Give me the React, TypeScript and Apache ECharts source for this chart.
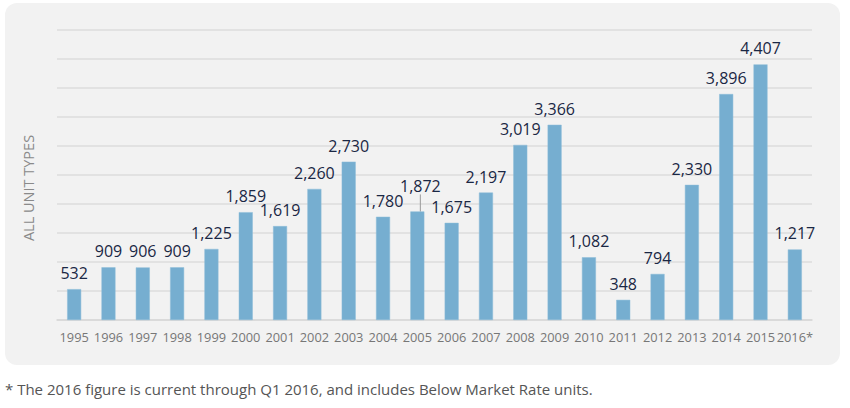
import React, { useEffect, useRef } from "react";
import * as echarts from "echarts";

const categories = ["1995","1996","1997","1998","1999","2000","2001","2002","2003","2004","2005","2006","2007","2008","2009","2010","2011","2012","2013","2014","2015","2016*"];
const units = [532,909,906,909,1225,1859,1619,2260,2730,1780,1872,1675,2197,3019,3366,1082,348,794,2330,3896,4407,1217];
const yMax = 5000;
const yInterval = 500;
const axisTitle = "ALL UNIT TYPES";
const footnote = "* The 2016 figure is current through Q1 2016, and includes Below Market Rate units.";
const shiftedLabelIndex = 10;

export default function App() {
  const ref = useRef<HTMLDivElement>(null);
  useEffect(() => {
    if (!ref.current) return;
    const chart = echarts.init(ref.current, undefined, { renderer: "svg" });
    const font = "'Open Sans', 'Noto Sans', sans-serif";
    chart.setOption({
      animation: false,
      textStyle: { fontFamily: font },
      graphic: [
        {
          type: "rect",
          z: -10,
          shape: { x: 5, y: 3, width: 835, height: 362, r: 12 },
          style: { fill: "#f2f2f2" },
        },
        {
          type: "text",
          x: 28,
          y: 188,
          rotation: Math.PI / 2,
          style: {
            text: axisTitle,
            fill: "#8a8a8a",
            font: "14.5px " + font,
            align: "center",
            verticalAlign: "middle",
          },
        },
        {
          type: "text",
          x: 5,
          y: 389,
          style: {
            text: footnote,
            fill: "#555",
            font: "15px " + font,
            align: "left",
            verticalAlign: "middle",
          },
        },
      ],
      grid: { left: 57, right: 38, top: 30, bottom: 88 },
      xAxis: {
        type: "category",
        data: categories,
        axisLine: { lineStyle: { color: "#d8d8d8", width: 1.5 } },
        axisTick: { show: false },
        axisLabel: { color: "#777", fontSize: 12.8, margin: 10, interval: 0 },
      },
      yAxis: {
        type: "value",
        min: 0,
        max: yMax,
        interval: yInterval,
        axisLabel: { show: false },
        axisLine: { show: false },
        axisTick: { show: false },
        splitLine: { lineStyle: { color: "#dcdcdc", width: 1.5 } },
      },
      series: [
        {
          type: "bar",
          barWidth: 14,
          data: units.map((v, i) =>
            i === shiftedLabelIndex
              ? { value: v, labelLine: { show: true, lineStyle: { color: "#999", width: 1 } } }
              : v
          ),
          itemStyle: { color: "#76aed0", borderColor: "#8dbcd9", borderWidth: 0.5 },
          label: {
            show: true,
            position: "top",
            distance: 8,
            color: "#1a2744",
            fontSize: 16,
            formatter: (p: any) => Number(p.value).toLocaleString("en-US"),
          },
          labelLayout: (p: any) =>
            p.dataIndex === shiftedLabelIndex ? { dx: 3, dy: -9 } : {},
        },
      ],
    });
    return () => chart.dispose();
  }, []);
  return (
    <div
      ref={ref}
      style={{ position: "absolute", left: 0, top: 0, width: 850, height: 408, background: "#fff" }}
    />
  );
}
